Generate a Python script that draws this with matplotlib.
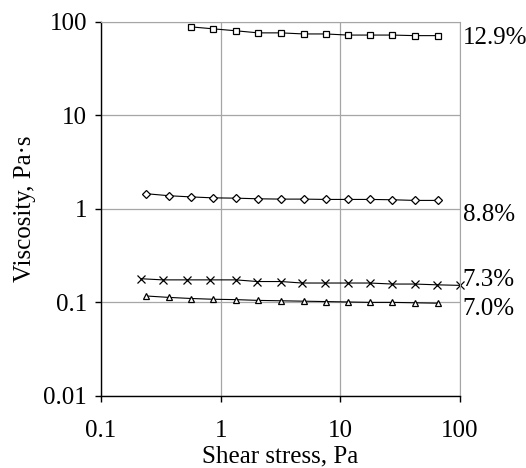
import numpy as np
import matplotlib
matplotlib.use("Agg")
import matplotlib.pyplot as plt
from matplotlib.ticker import FixedLocator, FuncFormatter, NullLocator

plt.rcParams['font.family'] = ['Liberation Serif', 'DejaVu Serif']

# shear stress steps (Pa)
stress = [0.24, 0.37, 0.57, 0.86, 1.34, 2.06, 3.19, 4.93, 7.54, 11.5, 17.7, 27.2, 41.8, 65.0]
stress_x = [0.215, 0.328, 0.52, 0.815, 1.34, 2.03, 3.19, 4.80, 7.44, 11.5, 17.7, 27.2, 41.8, 64.4, 100.0]

# viscosity (Pa s) per concentration
visc_129 = [88, 84, 80, 76, 76, 74, 74, 72, 72, 72, 71, 71]
visc_88 = [1.45, 1.38, 1.34, 1.31, 1.30, 1.28, 1.27, 1.27, 1.26, 1.26, 1.26, 1.25, 1.23, 1.23]
visc_73 = [0.179, 0.174, 0.174, 0.174, 0.174, 0.167, 0.167, 0.161, 0.161, 0.161, 0.161, 0.157, 0.157, 0.154, 0.152]
visc_70 = [0.117, 0.113, 0.110, 0.108, 0.107, 0.105, 0.104, 0.103, 0.102, 0.101, 0.100, 0.100, 0.099, 0.098]

labels = ['12.9%', '8.8%', '7.3%', '7.0%']
label_y = [67, 0.85, 0.175, 0.086]

fig = plt.figure(figsize=(5.26, 4.68), dpi=100)
ax = fig.add_axes([0.192, 0.154, 0.6825, 0.7996])

mk = dict(color='black', lw=0.8, markerfacecolor='white', markeredgecolor='black',
          markeredgewidth=0.9, clip_on=False)
ax.plot(stress[2:], visc_129, marker='s', ms=5, **mk)
ax.plot(stress, visc_88, marker='D', ms=4.5, **mk)
ax.plot(stress_x, visc_73, marker='x', ms=5.5, **mk)
ax.plot(stress, visc_70, marker='^', ms=5, **mk)

ax.set_xscale('log')
ax.set_yscale('log')
ax.set_xlim(0.1, 100)
ax.set_ylim(0.01, 100)

fmt = FuncFormatter(lambda v, p: '%g' % v)
ax.xaxis.set_major_locator(FixedLocator([0.1, 1, 10, 100]))
ax.yaxis.set_major_locator(FixedLocator([0.01, 0.1, 1, 10, 100]))
ax.xaxis.set_minor_locator(NullLocator())
ax.yaxis.set_minor_locator(NullLocator())
ax.xaxis.set_major_formatter(fmt)
ax.yaxis.set_major_formatter(fmt)

ax.grid(True, color='#a6a6a6', lw=0.9)
ax.set_axisbelow(True)
ax.spines['top'].set_color('#a6a6a6')
ax.spines['right'].set_color('#a6a6a6')
ax.spines['left'].set_linewidth(1.0)
ax.spines['bottom'].set_linewidth(1.0)
ax.tick_params(axis='both', direction='out', length=4, width=1.0, labelsize=18, pad=6)
ax.tick_params(axis='x', pad=13)

ax.set_xlabel('Shear stress, Pa', fontsize=18, labelpad=3)
ax.set_ylabel('Viscosity, Pa·s', fontsize=18, labelpad=5)

for lab, yv in zip(labels, label_y):
    ax.annotate(lab, xy=(1, yv), xycoords=('axes fraction', 'data'),
                xytext=(2, 0), textcoords='offset points',
                ha='left', va='center', fontsize=18)

fig.savefig('out.png', dpi=100)
